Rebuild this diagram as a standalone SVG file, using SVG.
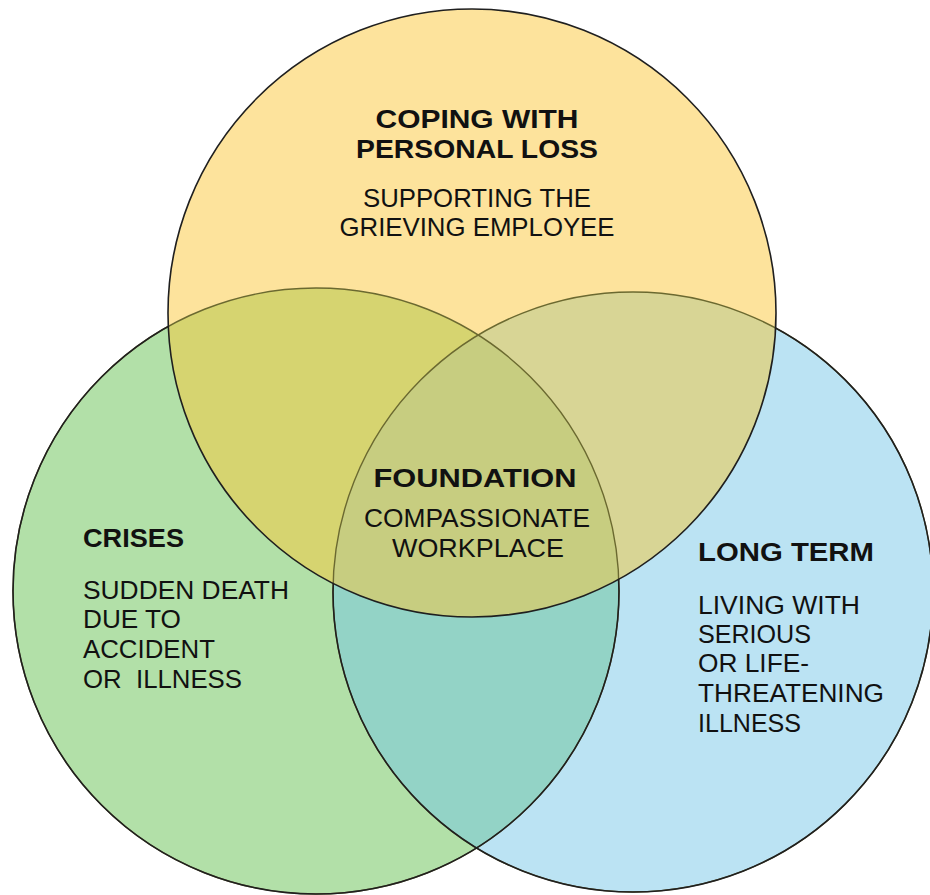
<svg xmlns="http://www.w3.org/2000/svg" width="930" height="895" viewBox="0 0 930 895">
<style>
  .t { font-family: "Liberation Sans", Arial, sans-serif; font-size: 26px; fill: #111; }
  .b { font-weight: bold; }
  .r { font-weight: normal; }
  .edge { fill: none; stroke: #1f1f1f; stroke-width: 1.6; }
  .inner { fill: none; stroke: #6b6930; stroke-width: 1.4; }
</style>
<defs>
  <circle id="cy" cx="472" cy="313" r="304"/>
  <circle id="cg" cx="316" cy="591" r="303"/>
  <circle id="cb" cx="633" cy="592" r="300"/>
  <clipPath id="clipY"><use href="#cy"/></clipPath>
  <clipPath id="clipB"><use href="#cb"/></clipPath>
  <mask id="outY" maskUnits="userSpaceOnUse" x="0" y="0" width="930" height="895">
    <rect x="0" y="0" width="930" height="895" fill="#fff"/>
    <use href="#cy" fill="#000"/>
  </mask>
</defs>
<rect x="0" y="0" width="930" height="895" fill="#ffffff"/>

<g id="crises">
  <use href="#cg" fill="#b2e0a8"/>
  <text class="t b" x="83" y="547" textLength="101" lengthAdjust="spacingAndGlyphs">CRISES</text>
  <text class="t r" x="83" y="599" textLength="206" lengthAdjust="spacingAndGlyphs">SUDDEN DEATH</text>
  <text class="t r" x="83" y="628" textLength="98" lengthAdjust="spacingAndGlyphs">DUE TO</text>
  <text class="t r" x="83" y="658" textLength="132" lengthAdjust="spacingAndGlyphs">ACCIDENT</text>
  <text class="t r" x="83" y="688" textLength="159" lengthAdjust="spacingAndGlyphs" xml:space="preserve">OR  ILLNESS</text>
</g>

<g id="long-term">
  <use href="#cb" fill="#bbe3f3"/>
  <text class="t b" x="698" y="561" textLength="176" lengthAdjust="spacingAndGlyphs">LONG TERM</text>
  <text class="t r" x="698" y="614" textLength="162" lengthAdjust="spacingAndGlyphs">LIVING WITH</text>
  <text class="t r" x="698" y="643" textLength="113" lengthAdjust="spacingAndGlyphs">SERIOUS</text>
  <text class="t r" x="698" y="672" textLength="111" lengthAdjust="spacingAndGlyphs">OR LIFE-</text>
  <text class="t r" x="698" y="702" textLength="186" lengthAdjust="spacingAndGlyphs">THREATENING</text>
  <text class="t r" x="698" y="732" textLength="103" lengthAdjust="spacingAndGlyphs">ILLNESS</text>
</g>

<g id="coping">
  <use href="#cy" fill="#fde39c"/>
  <text class="t b" x="477" y="128" text-anchor="middle" textLength="203" lengthAdjust="spacingAndGlyphs">COPING WITH</text>
  <text class="t b" x="477" y="158" text-anchor="middle" textLength="242" lengthAdjust="spacingAndGlyphs">PERSONAL LOSS</text>
  <text class="t r" x="477" y="207" text-anchor="middle" textLength="228" lengthAdjust="spacingAndGlyphs">SUPPORTING THE</text>
  <text class="t r" x="477" y="236" text-anchor="middle" textLength="275" lengthAdjust="spacingAndGlyphs">GRIEVING EMPLOYEE</text>
</g>

<g id="overlaps">
  <g clip-path="url(#clipB)"><use href="#cg" fill="#93d3c6"/></g>
  <g clip-path="url(#clipY)">
    <use href="#cg" fill="#d6d470"/>
    <use href="#cb" fill="#d8d595"/>
    <g clip-path="url(#clipB)"><use href="#cg" fill="#c7cd80"/></g>
  </g>
  <use href="#cg" class="inner"/>
  <use href="#cb" class="inner"/>
  <g mask="url(#outY)">
    <use href="#cg" class="edge"/>
    <use href="#cb" class="edge"/>
  </g>
  <use href="#cy" class="edge"/>
</g>

<g id="foundation">
  <text class="t b" x="475" y="487" text-anchor="middle" textLength="203" lengthAdjust="spacingAndGlyphs">FOUNDATION</text>
  <text class="t r" x="477" y="527" text-anchor="middle" textLength="226" lengthAdjust="spacingAndGlyphs">COMPASSIONATE</text>
  <text class="t r" x="478" y="557" text-anchor="middle" textLength="172" lengthAdjust="spacingAndGlyphs">WORKPLACE</text>
</g>
</svg>
